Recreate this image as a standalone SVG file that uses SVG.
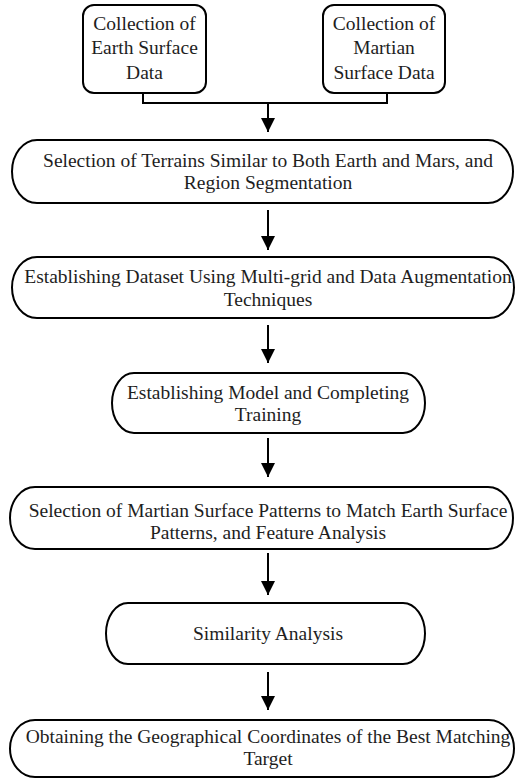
<svg xmlns="http://www.w3.org/2000/svg" width="515" height="778" viewBox="0 0 515 778">
<defs>
<style>
.box{fill:#fff;stroke:#000;stroke-width:2}
.t{font-family:'Liberation Serif','Times New Roman',serif;font-size:19.5px;fill:#1e1e1e;text-anchor:middle}
.c{fill:none;stroke:#000;stroke-width:2}
</style>
<marker id="ah" viewBox="0 0 10 10" refX="10" refY="5" markerWidth="7" markerHeight="7" markerUnits="strokeWidth" orient="auto">
<path d="M0,0 L10,5 L0,10 Z" fill="#000"/>
</marker>
</defs>
<rect width="515" height="778" fill="#fff"/>
<g id="connectors">
<path class="c" d="M143,93 V103 H387 V93"/>
<path class="c" d="M268,103 V132" marker-end="url(#ah)"/>
<path class="c" d="M268,210 V250" marker-end="url(#ah)"/>
<path class="c" d="M268,325 V363" marker-end="url(#ah)"/>
<path class="c" d="M268,438 V477" marker-end="url(#ah)"/>
<path class="c" d="M268,553 V595" marker-end="url(#ah)"/>
<path class="c" d="M268,672 V710" marker-end="url(#ah)"/>
</g>
<g id="earth">
<rect class="box" x="83" y="5" width="123" height="88" rx="11"/>
<text class="t" x="144.5" y="30">Collection of</text>
<text class="t" x="144.5" y="54">Earth Surface</text>
<text class="t" x="144.5" y="79">Data</text>
</g>
<g id="mars">
<rect class="box" x="323" y="5" width="122" height="88" rx="11"/>
<text class="t" x="384" y="30">Collection of</text>
<text class="t" x="384" y="54">Martian</text>
<text class="t" x="384" y="79">Surface Data</text>
</g>
<g id="selection">
<rect class="box" x="12" y="140" width="501" height="63" rx="25" ry="31.5"/>
<text class="t" x="268" y="167">Selection of Terrains Similar to Both Earth and Mars, and</text>
<text class="t" x="268" y="189">Region Segmentation</text>
</g>
<g id="dataset">
<rect class="box" x="12" y="257" width="502" height="61" rx="25" ry="30.5"/>
<text class="t" x="268" y="283">Establishing Dataset Using Multi-grid and Data Augmentation</text>
<text class="t" x="268" y="306">Techniques</text>
</g>
<g id="model">
<rect class="box" x="112" y="373" width="313" height="60" rx="22" ry="30"/>
<text class="t" x="268" y="399">Establishing Model and Completing</text>
<text class="t" x="268" y="421">Training</text>
</g>
<g id="patterns">
<rect class="box" x="10" y="487" width="503" height="62" rx="25" ry="31"/>
<text class="t" x="268" y="517">Selection of Martian Surface Patterns to Match Earth Surface</text>
<text class="t" x="268" y="539">Patterns, and Feature Analysis</text>
</g>
<g id="similarity">
<rect class="box" x="106" y="603" width="319" height="61" rx="22" ry="30.5"/>
<text class="t" x="268" y="640">Similarity Analysis</text>
</g>
<g id="coords">
<rect class="box" x="10" y="720" width="504" height="57" rx="25" ry="28.5"/>
<text class="t" x="268" y="743">Obtaining the Geographical Coordinates of the Best Matching</text>
<text class="t" x="268" y="765">Target</text>
</g>
</svg>
